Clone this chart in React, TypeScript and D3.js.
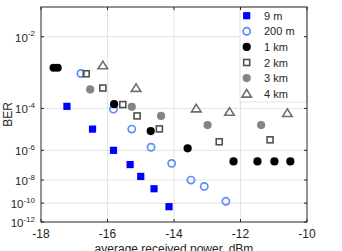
import React from 'react';
import * as d3 from 'd3';

const W = 342;
const H = 251;
const box = { left: 41, right: 307, top: 7, bottom: 222 };

// received power in dBm and measured BER for each link length
const p9m = [-17.22, -16.45, -15.82, -15.32, -15.0, -14.6, -14.15];
const ber9m = [1.2e-4, 1.3e-5, 1e-6, 1.3e-7, 1.9e-8, 2e-9, 4.5e-11];

const p200m = [-16.8, -15.82, -15.27, -14.69, -14.07, -13.49, -13.09, -12.44];
const ber200m = [1.4e-3, 9.3e-5, 1.3e-5, 1.5e-6, 1.55e-7, 1e-8, 3.1e-9, 1.5e-10];

const p1km = [-17.62, -17.5, -15.8, -14.7, -13.59, -12.21, -11.49, -10.98, -10.5];
const ber1km = [2e-3, 2e-3, 1.45e-4, 1.05e-5, 1.3e-6, 2.1e-7, 2.1e-7, 2.1e-7, 2.1e-7];

const p2km = [-16.64, -16.14, -15.54, -15.11, -14.44, -12.64, -11.11];
const ber2km = [1.38e-3, 5.2e-4, 1.4e-4, 5e-5, 1.33e-5, 3e-6, 3.8e-6];

const p3km = [-16.52, -15.27, -14.39, -12.99, -11.38];
const ber3km = [4.7e-4, 1.15e-4, 5e-5, 2e-5, 2e-5];

const p4km = [-16.14, -15.14, -13.33, -12.33, -10.59];
const ber4km = [2.3e-3, 5.2e-4, 9.9e-5, 7.3e-5, 6.5e-5];

const legendLabels = ['9 m', '200 m', '1 km', '2 km', '3 km', '4 km'];
const xTicks = [-18, -16, -14, -12, -10];
const yTickExps = [-2, -4, -6, -8, -10, -12];

const x = d3.scaleLinear().domain([-18, -10]).range([box.left, box.right]);
// BER axis: linear in log10(-log10(BER))
const q = (b: number) => Math.log10(-Math.log10(b));
const yq = d3.scaleLinear().domain([q(10 ** -1.5), q(1e-12)]).range([box.top, box.bottom]);
const y = (b: number) => yq(q(b));

type Kind = 'sq' | 'oc' | 'dot' | 'osq' | 'gdot' | 'tri';

const Marker = ({ kind, cx, cy }: { kind: Kind; cx: number; cy: number }) => {
  switch (kind) {
    case 'sq':
      return <rect x={cx - 3.6} y={cy - 3.6} width={7.2} height={7.2} fill="#0000ff" />;
    case 'oc':
      return <circle cx={cx} cy={cy} r={3.6} fill="none" stroke="#5b8ff5" strokeWidth={1.7} />;
    case 'dot':
      return <circle cx={cx} cy={cy} r={4.1} fill="#000" />;
    case 'osq':
      return <rect x={cx - 3} y={cy - 3} width={6} height={6} fill="none" stroke="#505050" strokeWidth={1.6} />;
    case 'gdot':
      return <circle cx={cx} cy={cy} r={4.1} fill="#858585" />;
    case 'tri':
      return (
        <path
          d={`M${cx},${cy - 4.2}L${cx + 4.8},${cy + 3.4}L${cx - 4.8},${cy + 3.4}Z`}
          fill="none"
          stroke="#6e6e6e"
          strokeWidth={1.6}
          strokeLinejoin="miter"
        />
      );
  }
};

const series: { kind: Kind; p: number[]; ber: number[]; label: string }[] = [
  { kind: 'sq', p: p9m, ber: ber9m, label: legendLabels[0] },
  { kind: 'oc', p: p200m, ber: ber200m, label: legendLabels[1] },
  { kind: 'dot', p: p1km, ber: ber1km, label: legendLabels[2] },
  { kind: 'osq', p: p2km, ber: ber2km, label: legendLabels[3] },
  { kind: 'gdot', p: p3km, ber: ber3km, label: legendLabels[4] },
  { kind: 'tri', p: p4km, ber: ber4km, label: legendLabels[5] },
];

const axisColor = '#262626';
const font = '"Liberation Sans", Arial, sans-serif';

export default function App() {
  return (
    <svg
      width={W}
      height={H}
      style={{ position: 'absolute', left: 0, top: 0, background: '#fff' }}
      fontFamily={font}
    >
      <rect x={0} y={0} width={W} height={H} fill="#fff" />
      {/* grid */}
      {xTicks.slice(1, -1).map((t) => (
        <line key={'gx' + t} x1={x(t)} x2={x(t)} y1={box.top} y2={box.bottom} stroke="#e3e3e3" strokeWidth={1} />
      ))}
      {yTickExps.slice(0, -1).map((e) => (
        <line key={'gy' + e} x1={box.left} x2={box.right} y1={y(10 ** e)} y2={y(10 ** e)} stroke="#e3e3e3" strokeWidth={1} />
      ))}

      {/* data */}
      {series.map((s) =>
        s.p.map((p, i) => <Marker key={s.label + i} kind={s.kind} cx={x(p)} cy={y(s.ber[i])} />)
      )}

      {/* legend */}
      <rect x={240} y={box.top} width={box.right - 240} height={95} fill="#fff" stroke="#e3e3e3" strokeWidth={1} />
      {series.map((s, i) => {
        const ry = 15.7 + i * 15.6;
        return (
          <g key={'lg' + i}>
            <Marker kind={s.kind} cx={246.7} cy={ry} />
            <text x={264} y={ry + 4} fontSize={11} fill={axisColor}>
              {s.label}
            </text>
          </g>
        );
      })}

      {/* axes box and ticks */}
      <rect
        x={box.left}
        y={box.top}
        width={box.right - box.left}
        height={box.bottom - box.top}
        fill="none"
        stroke={axisColor}
        strokeWidth={1}
      />
      {xTicks.map((t) => (
        <g key={'xt' + t}>
          <line x1={x(t)} x2={x(t)} y1={box.bottom} y2={box.bottom - 3} stroke={axisColor} />
          <line x1={x(t)} x2={x(t)} y1={box.top} y2={box.top + 3} stroke={axisColor} />
          <text x={x(t)} y={238} textAnchor="middle" fontSize={12} fill={axisColor}>
            {t}
          </text>
        </g>
      ))}
      {yTickExps.map((e) => {
        const ty = y(10 ** e);
        return (
          <g key={'yt' + e}>
            <line x1={box.left} x2={box.left + 3} y1={ty} y2={ty} stroke={axisColor} />
            <line x1={box.right} x2={box.right - 3} y1={ty} y2={ty} stroke={axisColor} />
            <text x={35} y={ty + 5} textAnchor="end" fontSize={11.5} fill={axisColor}>
              10
              <tspan dy={-5.5} fontSize={8}>
                {e}
              </tspan>
            </text>
          </g>
        );
      })}

      <text x={174} y={253} textAnchor="middle" fontSize={12} fill={axisColor}>
        average received power, dBm
      </text>
      <text transform={`translate(12,${(box.top + box.bottom) / 2}) rotate(-90)`} textAnchor="middle" fontSize={12} fill={axisColor}>
        BER
      </text>
    </svg>
  );
}
